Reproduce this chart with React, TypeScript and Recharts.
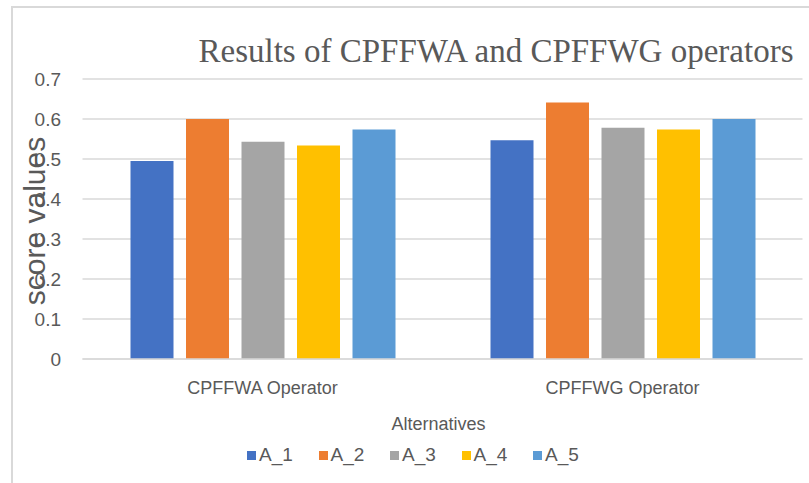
import React from 'react';
import { BarChart, Bar, XAxis, YAxis, CartesianGrid, Legend } from 'recharts';

const categories = ['CPFFWA Operator', 'CPFFWG Operator'];
const seriesNames = ['A_1', 'A_2', 'A_3', 'A_4', 'A_5'];
const a1Values = [0.495, 0.547];
const a2Values = [0.6, 0.641];
const a3Values = [0.543, 0.578];
const a4Values = [0.534, 0.574];
const a5Values = [0.574, 0.6];
const yTicks = [0, 0.1, 0.2, 0.3, 0.4, 0.5, 0.6, 0.7];
const colors = ['#4472C4', '#ED7D31', '#A5A5A5', '#FFC000', '#5B9BD5'];
const title = 'Results of CPFFWA and CPFFWG operators';
const xTitle = 'Alternatives';
const yTitle = 'score values';

const seriesValues = [a1Values, a2Values, a3Values, a4Values, a5Values];
const data = categories.map((name, i) => {
  const row: Record<string, string | number> = { name };
  seriesNames.forEach((s, j) => {
    row[s] = seriesValues[j][i];
  });
  return row;
});

const TEXT = '#595959';
const SANS = '"Liberation Sans", Arial, sans-serif';

const LegendContent = () => (
  <div style={{ display: 'flex', justifyContent: 'flex-start', paddingLeft: 247, fontFamily: SANS, fontSize: 19, color: TEXT }}>
    {seriesNames.map((s, i) => (
      <div key={s} style={{ display: 'flex', alignItems: 'center', width: 71.5 }}>
        <span style={{ display: 'inline-block', width: 9, height: 9, background: colors[i], marginRight: 3 }} />
        <span>{s}</span>
      </div>
    ))}
  </div>
);

export default function App() {
  return (
    <div style={{ position: 'absolute', left: 0, top: 0, width: 809, height: 483, overflow: 'hidden', background: '#fff' }}>
      <div style={{ position: 'absolute', left: 11, top: 6, width: 900, height: 600, border: '2px solid #d9d9d9', boxSizing: 'border-box' }} />
      <div style={{ position: 'absolute', left: 0, top: 0 }}>
        <BarChart
          width={809}
          height={483}
          data={data}
          margin={{ top: 79, right: 6.5, left: 10, bottom: 64 }}
          barSize={43}
          barGap={12.5}
        >
          <CartesianGrid vertical={false} stroke="#d9d9d9" strokeWidth={1.5} />
          <XAxis
            dataKey="name"
            tickLine={false}
            axisLine={{ stroke: '#d9d9d9', strokeWidth: 1.5 }}
            tickSize={0}
            tickMargin={22}
            height={60}
            tick={{ fill: TEXT, fontSize: 18, fontFamily: SANS }}
            label={{
              content: (props: any) => {
                const vb = props.viewBox || {};
                return (
                  <text x={vb.x + vb.width / 2 - 4} y={430} textAnchor="middle" fill={TEXT} fontSize={18} fontFamily={SANS}>
                    {xTitle}
                  </text>
                );
              },
            }}
          />
          <YAxis
            domain={[0, 0.7]}
            ticks={yTicks}
            width={72.5}
            axisLine={false}
            tickLine={false}
            tickSize={0}
            tickMargin={21.5}
            tick={{ fill: TEXT, fontSize: 19, fontFamily: SANS }}
            tickFormatter={(v: number) => String(v)}
            label={{
              content: () => (
                <text
                  x={45}
                  y={221}
                  transform="rotate(-90 45 221)"
                  textAnchor="middle"
                  fill={TEXT}
                  fontSize={30}
                  fontFamily={SANS}
                >
                  {yTitle}
                </text>
              ),
            }}
          />
          <Legend
            layout="horizontal"
            verticalAlign="middle"
            align="center"
            content={<LegendContent />}
            wrapperStyle={{ top: 444, left: 0, width: 809 }}
          />
          {seriesNames.map((s, i) => (
            <Bar key={s} dataKey={s} fill={colors[i]} isAnimationActive={false} />
          ))}
        </BarChart>
      </div>
      <svg width={809} height={483} style={{ position: 'absolute', left: 0, top: 0, pointerEvents: 'none' }}>
        <text x={496} y={62} textAnchor="middle" fill={TEXT} fontSize={33} fontFamily='"Liberation Serif", "Times New Roman", serif'>
          {title}
        </text>
      </svg>
    </div>
  );
}
